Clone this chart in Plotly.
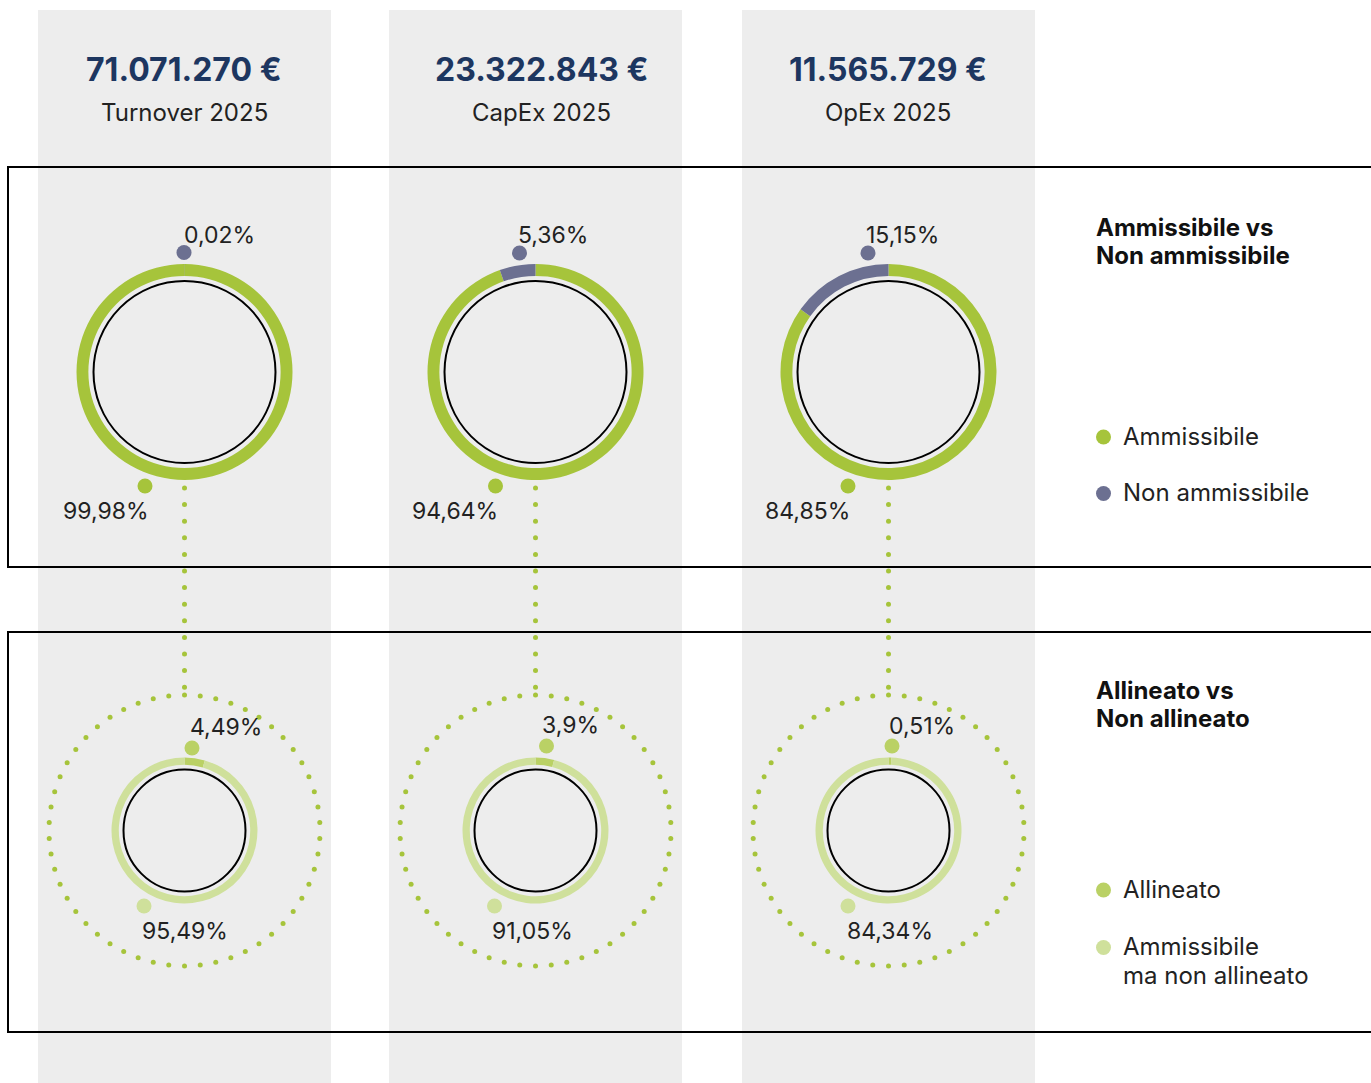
import numpy as np
import plotly.graph_objects as go

W, H = 1371, 1083

# ---- data -------------------------------------------------------------
metrics = ["Turnover 2025", "CapEx 2025", "OpEx 2025"]
totals = ["71.071.270 €", "23.322.843 €", "11.565.729 €"]
ammissibile = [99.98, 94.64, 84.85]
non_ammissibile = [0.02, 5.36, 15.15]
allineato = [4.49, 3.9, 0.51]
non_allineato = [95.49, 91.05, 84.34]

legend_top_title = ["Ammissibile vs", "Non ammissibile"]
legend_top_items = [["Ammissibile"], ["Non ammissibile"]]
legend_bot_title = ["Allineato vs", "Non allineato"]
legend_bot_items = [["Allineato"], ["Ammissibile", "ma non allineato"]]

# ---- styling ----------------------------------------------------------
GREEN = "#a6c43b"
PURPLE = "#6c7091"
ALIGNED = "#bad165"
LIGHT = "#cfe09b"
GREY = "#ededed"
NAVY = "#1d3660"
TEXT = "#222222"
FONT = "Inter"

col_x = [184.5, 535.5, 888.5]
head_x = [184, 541, 888]
col_w = 293

top_cy, top_r, top_hole, top_inner = 372, 108, 0.89, 91
bot_cy, bot_r, bot_hole, bot_inner, bot_dotted = 830.5, 73, 0.90, 61, 135.5

# label / dot placement offsets relative to the column centre
top_small_dot = [(-0.5, 252.5), (-16, 253), (-20.5, 253)]
top_small_lab = [(35, 235), (17, 235), (13.5, 235)]
top_big_dot = [(-39.5, 486), (-40, 486), (-40.5, 486)]
top_big_lab = [(-79, 511), (-81, 511), (-81.5, 511)]
bot_small_dot = [(7.5, 748), (11, 746), (3.5, 746)]
bot_small_lab = [(41, 727), (35, 725), (33.5, 726)]
bot_big_dot = [(-40.5, 906), (-41, 906), (-40.5, 906)]
bot_big_lab = [(0.5, 931), (-3, 931), (1.5, 931)]


def fmt(v):
    s = f"{v:.2f}".rstrip("0").rstrip(".")
    return s.replace(".", ",") + "%"


def domain(cx, cy, r):
    return dict(x=[(cx - r) / W, (cx + r) / W],
                y=[1 - (cy + r) / H, 1 - (cy - r) / H])


def text(x, y, s, size, color=TEXT, anchor="center", bold=False):
    return dict(x=x, y=y, text=f"<b>{s}</b>" if bold else s, showarrow=False,
                font=dict(family=FONT, size=size, color=color),
                xanchor=anchor, yanchor="middle", align="left")


fig = go.Figure()
shapes = []
annotations = []

# grey column backgrounds
for cx in col_x:
    shapes.append(dict(type="rect", xref="x", yref="y", x0=cx - col_w / 2, x1=cx + col_w / 2,
                       y0=10, y1=H + 5, fillcolor=GREY, line=dict(width=0), layer="below"))

# section frames
for y0, y1 in [(167, 567), (632, 1032)]:
    shapes.append(dict(type="rect", xref="x", yref="y", x0=8, x1=W + 20, y0=y0, y1=y1,
                       line=dict(color="black", width=2), fillcolor="rgba(0,0,0,0)", layer="below"))

dot_x, dot_y = [], []
for i, cx in enumerate(col_x):
    # header
    annotations.append(text(head_x[i], 69, totals[i], 32, NAVY, bold=True))
    annotations.append(text(head_x[i], 112, metrics[i], 24))

    # eligibility donut
    fig.add_trace(go.Pie(values=[ammissibile[i], non_ammissibile[i]],
                         labels=["Ammissibile", "Non ammissibile"], sort=False,
                         direction="clockwise", rotation=0, hole=top_hole, textinfo="none",
                         hoverinfo="label+percent",
                         marker=dict(colors=[GREEN, PURPLE], line=dict(width=0)),
                         domain=domain(cx, top_cy, top_r), showlegend=False))
    # alignment donut
    fig.add_trace(go.Pie(values=[allineato[i], non_allineato[i]],
                         labels=["Allineato", "Ammissibile ma non allineato"], sort=False,
                         direction="clockwise", rotation=0, hole=bot_hole, textinfo="none",
                         hoverinfo="label+percent",
                         marker=dict(colors=[ALIGNED, LIGHT], line=dict(width=0)),
                         domain=domain(cx, bot_cy, bot_r), showlegend=False))

    # inner outlines
    for cy, r in [(top_cy, top_inner), (bot_cy, bot_inner)]:
        shapes.append(dict(type="circle", xref="x", yref="y", x0=cx - r, x1=cx + r,
                           y0=cy - r, y1=cy + r, line=dict(color="black", width=2),
                           fillcolor="rgba(0,0,0,0)", layer="above"))

    # dotted connector and dotted halo
    for y in np.arange(488, bot_cy - bot_dotted - 4, 16.6):
        dot_x.append(cx)
        dot_y.append(y)
    n = 54
    ang = np.arange(n) * 2 * np.pi / n
    dot_x.extend(cx + bot_dotted * np.sin(ang))
    dot_y.extend(bot_cy - bot_dotted * np.cos(ang))

    # value labels with their marker dots
    for dots, labs, vals, col in [
        (top_small_dot, top_small_lab, non_ammissibile, PURPLE),
        (top_big_dot, top_big_lab, ammissibile, GREEN),
        (bot_small_dot, bot_small_lab, allineato, ALIGNED),
        (bot_big_dot, bot_big_lab, non_allineato, LIGHT),
    ]:
        fig.add_trace(go.Scatter(x=[cx + dots[i][0]], y=[dots[i][1]], mode="markers",
                                 marker=dict(size=15, color=col), hoverinfo="skip",
                                 showlegend=False))
        annotations.append(text(cx + labs[i][0], labs[i][1], fmt(vals[i]), 23))

fig.add_trace(go.Scatter(x=dot_x, y=dot_y, mode="markers",
                         marker=dict(size=5, color=GREEN), hoverinfo="skip", showlegend=False))

# legends
for title, ty, items, item_y, cols in [
    (legend_top_title, 227, legend_top_items, [437, 493.5], [GREEN, PURPLE]),
    (legend_bot_title, 690, legend_bot_items, [890, 947.5], [ALIGNED, LIGHT]),
]:
    for k, line in enumerate(title):
        annotations.append(text(1094, ty + 28 * k, line, 24, "#111111", anchor="left", bold=True))
    for lines, y, c in zip(items, item_y, cols):
        fig.add_trace(go.Scatter(x=[1103.5], y=[y], mode="markers",
                                 marker=dict(size=15, color=c), hoverinfo="skip", showlegend=False))
        for k, line in enumerate(lines):
            annotations.append(text(1121, y - 1 + 29 * k, line, 24, anchor="left"))

fig.update_layout(
    width=W, height=H, margin=dict(l=0, r=0, t=0, b=0),
    paper_bgcolor="white", plot_bgcolor="rgba(0,0,0,0)",
    xaxis=dict(range=[0, W], visible=False, fixedrange=True, domain=[0, 1]),
    yaxis=dict(range=[H, 0], visible=False, fixedrange=True, domain=[0, 1]),
    shapes=shapes, annotations=annotations, showlegend=False,
)

fig.write_html("out.html")
